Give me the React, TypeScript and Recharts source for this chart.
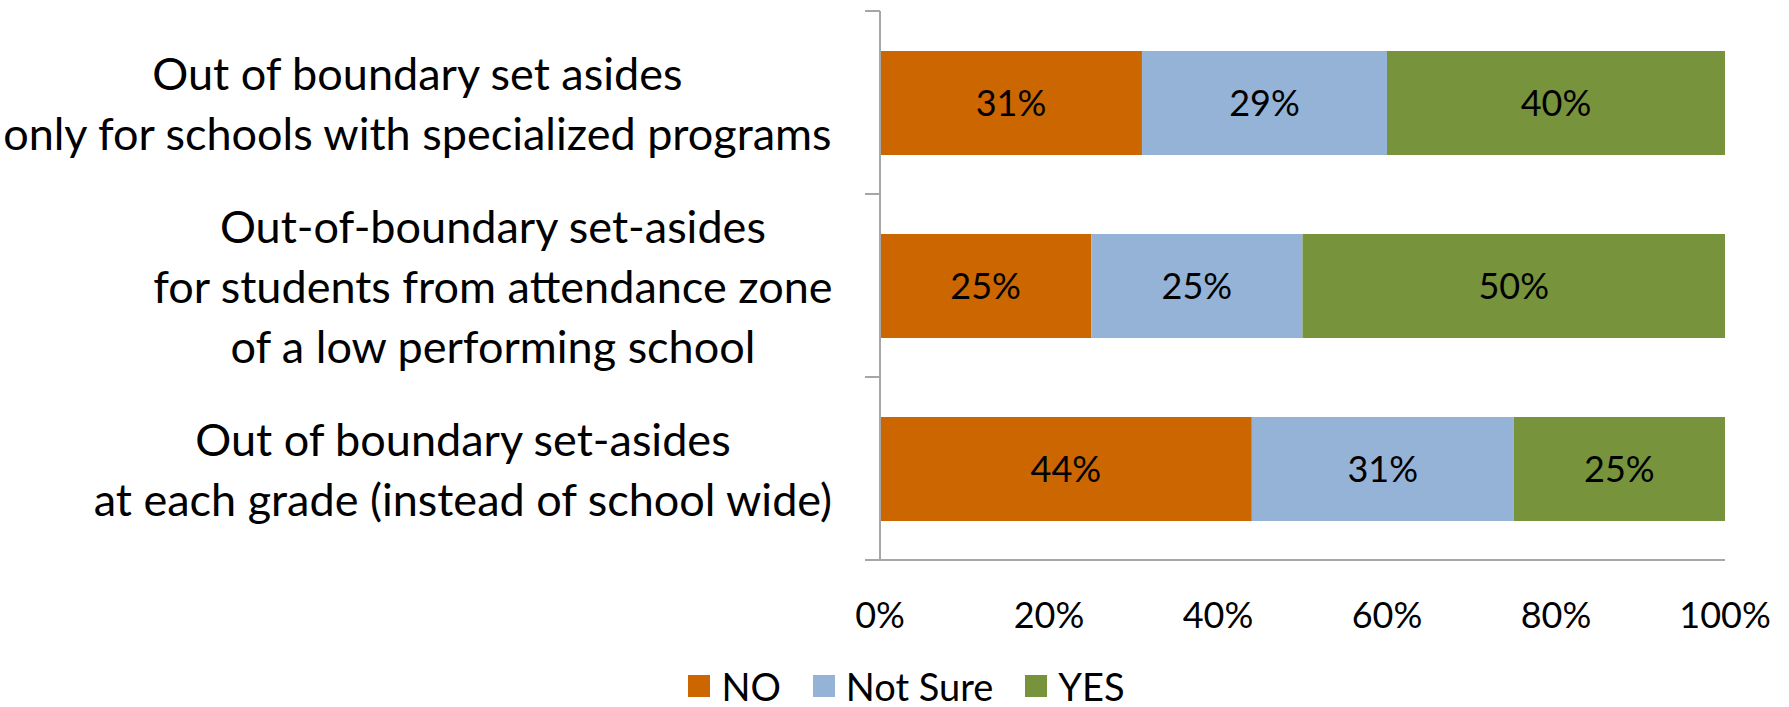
import React from 'react';
import { BarChart, Bar, XAxis, YAxis, Legend, LabelList } from 'recharts';

// categories (each label is a list of lines)
const categoryLines = [
  ['Out of boundary set asides', 'only for schools with specialized programs'],
  ['Out-of-boundary set-asides', 'for students from attendance zone', 'of a low performing school'],
  ['Out of boundary set-asides', 'at each grade (instead of school wide)'],
];
const noValues = [31, 25, 44];
const notSureValues = [29, 25, 31];
const yesValues = [40, 50, 25];
const xTicks = [0, 20, 40, 60, 80, 100];

const seriesNames = ['NO', 'Not Sure', 'YES'];
const seriesColors = ['#CC6600', '#95B3D7', '#77933C'];

const data = categoryLines.map((lines, i) => ({
  name: lines.join('\n'),
  no: noValues[i],
  notSure: notSureValues[i],
  yes: yesValues[i],
}));

const FONT = 'Lato, "Open Sans", sans-serif';
const W = 1789;
const H = 707;
const AXIS_X = 880;
const PLOT_TOP = 11;
const PLOT_BOTTOM = 560;
const BAND = (PLOT_BOTTOM - PLOT_TOP) / categoryLines.length;
const LABEL_RIGHT = 833;
const LABEL_SIZE = 45;
const LINE_H = 60;
const AXIS_COLOR = '#a6a6a6';

let ctx: CanvasRenderingContext2D | null = null;
function textWidth(s: string, size: number) {
  if (!ctx) ctx = document.createElement('canvas').getContext('2d');
  if (!ctx) return s.length * size * 0.5;
  ctx.font = `${size}px ${FONT}`;
  return ctx.measureText(s).width;
}

// y axis label: block right aligned, lines centred inside the block
function CategoryTick(props: any) {
  const { y, payload, index } = props;
  const lines: string[] = String(payload.value).split('\n');
  const maxW = Math.max(...lines.map((l) => textWidth(l, LABEL_SIZE)));
  const cx = LABEL_RIGHT - maxW / 2;
  const startY = y - ((lines.length - 1) * LINE_H) / 2;
  return (
    <g>
      <line x1={AXIS_X - 15} x2={AXIS_X} y1={y - BAND / 2} y2={y - BAND / 2} stroke={AXIS_COLOR} strokeWidth={2} />
      {index === categoryLines.length - 1 && (
        <line x1={AXIS_X - 15} x2={AXIS_X} y1={y + BAND / 2} y2={y + BAND / 2} stroke={AXIS_COLOR} strokeWidth={2} />
      )}
      {lines.map((l, i) => (
        <text
          key={i}
          x={cx}
          y={startY + i * LINE_H}
          textAnchor="middle"
          dominantBaseline="central"
          fontFamily={FONT}
          fontSize={LABEL_SIZE}
          fill="#000"
        >
          {l}
        </text>
      ))}
    </g>
  );
}

function LegendContent() {
  return (
    <div style={{ display: 'flex', justifyContent: 'center', alignItems: 'center', height: 36, lineHeight: '36px', overflow: 'visible', paddingLeft: 24, fontFamily: FONT, fontSize: 38, color: '#000' }}>
      {seriesNames.map((n, i) => (
        <div key={n} style={{ display: 'flex', alignItems: 'center', marginRight: i < seriesNames.length - 1 ? 32 : 0 }}>
          <div style={{ width: 22, height: 22, background: seriesColors[i], marginRight: 11 }} />
          <span>{n}</span>
        </div>
      ))}
    </div>
  );
}

export default function App() {
  return (
    <div style={{ position: 'absolute', left: 0, top: 0, width: W, height: H, background: '#fff' }}>
      <BarChart
        width={W}
        height={H}
        data={data}
        layout="vertical"
        margin={{ top: PLOT_TOP, right: W - 1725, left: 0, bottom: H - PLOT_BOTTOM - 60 }}
      >
        <XAxis
          type="number"
          domain={[0, 100]}
          ticks={xTicks}
          height={60}
          tickFormatter={(v) => `${v}%`}
          axisLine={{ stroke: AXIS_COLOR, strokeWidth: 2 }}
          tickLine={false}
          tickSize={0}
          tickMargin={42}
          tick={{ fontFamily: FONT, fontSize: 36, fill: '#000' }}
        />
        <YAxis
          type="category"
          dataKey="name"
          width={AXIS_X}
          axisLine={{ stroke: AXIS_COLOR, strokeWidth: 2 }}
          tickLine={false}
          tick={<CategoryTick />}
        />
        <Legend
          verticalAlign="middle"
          align="center"
          layout="horizontal"
          wrapperStyle={{ top: 668, left: 0, width: W, height: 36 }}
          content={<LegendContent />}
        />
        <Bar dataKey="no" name="NO" stackId="a" fill={seriesColors[0]} barSize={104} isAnimationActive={false}>
          <LabelList dataKey="no" position="center" formatter={(v: any) => `${v}%`} fill="#000" fontFamily={FONT} fontSize={36} />
        </Bar>
        <Bar dataKey="notSure" name="Not Sure" stackId="a" fill={seriesColors[1]} barSize={104} isAnimationActive={false}>
          <LabelList dataKey="notSure" position="center" formatter={(v: any) => `${v}%`} fill="#000" fontFamily={FONT} fontSize={36} />
        </Bar>
        <Bar dataKey="yes" name="YES" stackId="a" fill={seriesColors[2]} barSize={104} isAnimationActive={false}>
          <LabelList dataKey="yes" position="center" formatter={(v: any) => `${v}%`} fill="#000" fontFamily={FONT} fontSize={36} />
        </Bar>
      </BarChart>
    </div>
  );
}
